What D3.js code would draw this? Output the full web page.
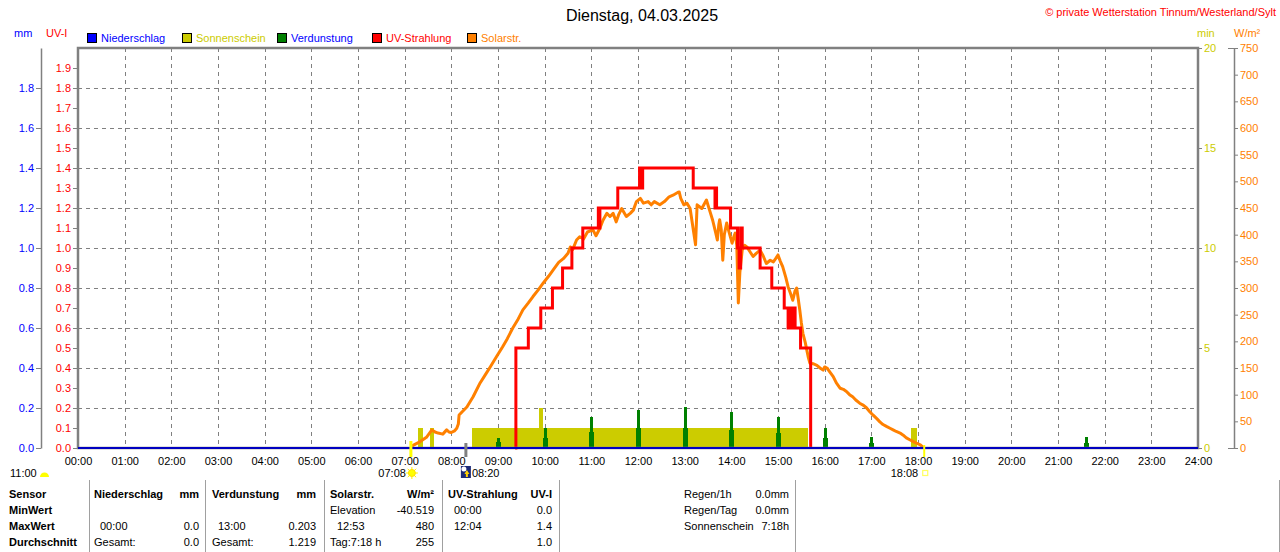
<!DOCTYPE html>
<html><head><meta charset="utf-8">
<script src="https://cdn.jsdelivr.net/npm/d3@7"></script>
<style>
html,body{margin:0;padding:0;background:#fff;}
svg{display:block;font-family:"Liberation Sans",Arial,sans-serif;}
</style></head><body>
<svg id="c" width="1280" height="552"></svg>
<script>
// ---------------- DATA ----------------
const titleText = "Dienstag, 04.03.2025";
const copyrightText = "\u00A9 private Wetterstation Tinnum/Westerland/Sylt";

const xTickLabels = ["00:00","01:00","02:00","03:00","04:00","05:00","06:00","07:00","08:00","09:00","10:00","11:00","12:00","13:00","14:00","15:00","16:00","17:00","18:00","19:00","20:00","21:00","22:00","23:00","24:00"];
const mmTicks  = [0,0.2,0.4,0.6,0.8,1.0,1.2,1.4,1.6,1.8];
const uvTicks  = [0,0.1,0.2,0.3,0.4,0.5,0.6,0.7,0.8,0.9,1.0,1.1,1.2,1.3,1.4,1.5,1.6,1.7,1.8,1.9];
const minTicks = [0,5,10,15,20];
const wTicks   = [0,50,100,150,200,250,300,350,400,450,500,550,600,650,700,750];

// Niederschlag (mm) – zero all day
const precipTimes  = ["00:00","24:00"];
const precipValues = [0,0];

// Sonnenschein (min) segments
const sunFrom = ["07:17","07:33","08:26","09:53","09:58","17:51"];
const sunTo   = ["07:23","07:38","09:53","09:58","15:38","17:59"];
const sunMin  = [1,1,1,2,1,1];

// Verdunstung (mm)
const evapTimes  = ["09:00","10:00","11:00","12:00","13:00","14:00","15:00","16:00","17:00","21:36"];
const evapValues = [0.05,0.10,0.155,0.19,0.203,0.18,0.155,0.10,0.053,0.055];
const evapBase   = [0.03,0.05,0.08,0.10,0.10,0.09,0.075,0.05,0.025,0.025];

// UV-Strahlung (UV-I), step series
const uvTimes  = ["09:22","09:23","09:39","09:55","10:10","10:23","10:35","10:49","11:09","11:10","11:11","11:34","12:02","12:03","12:04","12:05","12:06","13:11","13:39","13:40","13:41","13:59","14:08","14:10","14:12","14:14","14:37","14:52","15:08","15:13","15:14","15:16","15:17","15:19","15:20","15:22","15:29","15:42"];
const uvValues = [0,0.5,0.6,0.7,0.8,0.9,1.0,1.1,1.2,1.1,1.2,1.3,1.4,1.3,1.4,1.3,1.4,1.3,1.2,1.3,1.2,1.1,1.0,0.9,1.1,1.0,0.9,0.8,0.7,0.6,0.7,0.6,0.7,0.6,0.7,0.6,0.5,0];

// Solarstrahlung (W/m²)
const solarTimes = ["07:08","07:12","07:20","07:28","07:35","07:39","07:43","07:49","07:54","07:57","08:00","08:04","08:07","08:09","08:10","08:14","08:20","08:28","08:37","08:44","08:50","08:58","09:06","09:12","09:19","09:26","09:32","09:39","09:45","09:52","09:58","10:05","10:11","10:18","10:24","10:30","10:33","10:36","10:41","10:45","10:50","10:55","11:02","11:06","11:11","11:15","11:20","11:24","11:28","11:32","11:35","11:39","11:45","11:50","11:54","11:58","12:03","12:07","12:13","12:17","12:21","12:28","12:34","12:40","12:45","12:51","12:53","12:55","12:59","13:03","13:07","13:14","13:16","13:22","13:28","13:32","13:36","13:40","13:42","13:44","13:45","13:47","13:49","13:51","13:54","13:57","14:01","14:03","14:05","14:07","14:09","14:11","14:14","14:17","14:20","14:24","14:28","14:32","14:37","14:41","14:45","14:50","14:54","14:57","15:00","15:03","15:06","15:10","15:13","15:16","15:19","15:22","15:24","15:26","15:28","15:30","15:32","15:35","15:37","15:39","15:41","15:45","15:50","15:54","15:58","16:00","16:03","16:07","16:11","16:15","16:20","16:24","16:28","16:32","16:36","16:40","16:45","16:50","16:54","16:58","17:02","17:07","17:11","17:15","17:20","17:24","17:28","17:32","17:37","17:41","17:45","17:50","17:54","17:58","18:03","18:06","18:08"];
const solarValues = [2,6,12,20,34,30,28,26,34,30,29,32,37,45,62,68,77,96,122,138,152,171,190,205,225,242,259,272,284,297,309,322,334,348,355,365,377,372,390,396,392,405,409,398,412,427,440,434,440,424,437,449,434,440,446,462,468,459,462,456,462,456,462,471,474,479,480,468,456,459,449,381,456,449,465,446,427,403,390,420,428,410,352,400,422,405,384,395,403,380,272,330,371,380,377,368,359,365,371,360,346,352,349,355,362,350,340,320,302,290,277,295,300,280,259,235,215,198,184,170,159,158,155,150,146,152,150,142,134,122,112,110,106,100,96,90,84,80,75,68,62,55,49,44,40,37,34,31,28,24,19,15,12,9,6,2,0];

// Markers below the axis
const sunriseTime = "07:08", twilightTime = "08:20", sunsetTime = "18:08", noonLabel = "11:00";

// Legend
const legendNames  = ["Niederschlag","Sonnenschein","Verdunstung","UV-Strahlung","Solarstr."];
const legendColors = ["#0000ff","#cccc00","#008000","#ff0000","#ff8000"];
const legendText   = ["#0000ff","#cccc00","#0000ff","#ff0000","#ff8000"];

// Table
const rowLabels = ["Sensor","MinWert","MaxWert","Durchschnitt"];
const tableCols = [
  {head:["Niederschlag","mm"], rows:[["",""],["00:00","0.0"],["Gesamt:","0.0"]]},
  {head:["Verdunstung","mm"], rows:[["",""],["13:00","0.203"],["Gesamt:","1.219"]]},
  {head:["Solarstr.","W/m\u00B2"], rows:[["Elevation","-40.519"],["12:53","480"],["Tag:7:18 h","255"]]},
  {head:["UV-Strahlung","UV-I"], rows:[["00:00","0.0"],["12:04","1.4"],["","1.0"]]}
];
const summaryLabels = ["Regen/1h","Regen/Tag","Sonnenschein"];
const summaryValues = ["0.0mm","0.0mm","7:18h"];

// ---------------- DRAW ----------------
const svg = d3.select("#c");
const FONT = "'Liberation Sans',Arial,sans-serif";
const L = 78, R = 1198, T = 48, B = 448;
const x    = d3.scaleLinear().domain([0,24]).range([L,R]);
const yMM  = d3.scaleLinear().domain([0,2]).range([B,T]);
const yUV  = d3.scaleLinear().domain([0,2]).range([B,T]);
const yMin = d3.scaleLinear().domain([0,20]).range([B,T]);
const yW   = d3.scaleLinear().domain([0,750]).range([B,T]);
const tp = s => { const [h,m] = s.split(":").map(Number); return h + m/60; };

// grid
const grid = svg.append("g").attr("stroke","#808080").attr("stroke-width",1).attr("stroke-dasharray","4,4").attr("shape-rendering","crispEdges");
grid.selectAll("line.h").data(mmTicks.slice(1)).join("line")
  .attr("x1",L).attr("x2",R).attr("y1",d=>Math.round(yMM(d))+0.5).attr("y2",d=>Math.round(yMM(d))+0.5);
grid.selectAll("line.v").data(xTickLabels.slice(1,-1)).join("line")
  .attr("y1",T).attr("y2",B).attr("x1",d=>Math.round(x(tp(d)))+0.5).attr("x2",d=>Math.round(x(tp(d)))+0.5);

// sunshine bars
svg.append("g").attr("shape-rendering","crispEdges").selectAll("rect").data(sunMin).join("rect")
  .attr("x",(d,i)=>x(tp(sunFrom[i])))
  .attr("width",(d,i)=>x(tp(sunTo[i]))-x(tp(sunFrom[i])))
  .attr("y",d=>yMin(d)).attr("height",d=>B-yMin(d))
  .attr("fill","#cccc00");

// evaporation bars
const ge = svg.append("g").attr("fill","#008000").attr("shape-rendering","crispEdges");
ge.selectAll("rect.b").data(evapBase).join("rect")
  .attr("x",(d,i)=>x(tp(evapTimes[i]))-2).attr("width",5)
  .attr("y",d=>yMM(d)).attr("height",d=>B-yMM(d));
ge.selectAll("rect.s").data(evapValues).join("rect")
  .attr("x",(d,i)=>x(tp(evapTimes[i]))-1).attr("width",3)
  .attr("y",d=>yMM(d)).attr("height",d=>B-yMM(d));

// solar line
const solarLine = d3.line().x((d,i)=>x(tp(solarTimes[i]))).y(d=>yW(d));
svg.append("path").attr("d",solarLine(solarValues))
  .attr("fill","none").attr("stroke","#ff8000").attr("stroke-width",3).attr("stroke-linejoin","round");

// UV step line
const uvLine = d3.line().curve(d3.curveStepAfter).x((d,i)=>x(tp(uvTimes[i]))).y(d=>yUV(d));
svg.append("path").attr("d",uvLine(uvValues))
  .attr("fill","none").attr("stroke","#ff0000").attr("stroke-width",3);

// plot border
svg.append("rect").attr("x",L).attr("y",T).attr("width",R-L).attr("height",B-T)
  .attr("fill","none").attr("stroke","#808080").attr("stroke-width",2.5);

// precipitation line (blue baseline)
const precipLine = d3.line().x((d,i)=>x(tp(precipTimes[i]))).y(d=>yMM(d));
svg.append("path").attr("d",precipLine(precipValues))
  .attr("fill","none").attr("stroke","#0000c0").attr("stroke-width",2);

// axes
function styleAxis(g, color, lineW){
  g.attr("font-family",FONT).attr("font-size",11);
  g.selectAll("text").attr("fill",color);
  g.selectAll("line").attr("stroke","#808080");
  g.select(".domain").attr("stroke","#808080").attr("stroke-width",lineW||1.5);
}
const fmt1 = d3.format(".1f");
const gMM = svg.append("g").attr("transform","translate(41,0)")
  .call(d3.axisLeft(yMM).tickValues(mmTicks).tickFormat(fmt1).tickSize(5).tickSizeOuter(0).tickPadding(2));
styleAxis(gMM,"#0000ff");

const gUV = svg.append("g").attr("transform",`translate(${L},0)`)
  .call(d3.axisLeft(yUV).tickValues(uvTicks).tickFormat(fmt1).tickSize(5).tickSizeOuter(0).tickPadding(2));
styleAxis(gUV,"#ff0000"); gUV.select(".domain").remove();

const gMin = svg.append("g").attr("transform",`translate(${R},0)`)
  .call(d3.axisRight(yMin).tickValues(minTicks).tickSize(4).tickSizeOuter(0).tickPadding(2));
styleAxis(gMin,"#cccc00"); gMin.select(".domain").remove();

const gW = svg.append("g").attr("transform","translate(1234,0)")
  .call(d3.axisRight(yW).tickValues(wTicks).tickSize(4).tickSizeOuter(0).tickPadding(2));
styleAxis(gW,"#ff8000",1.5);
gW.selectAll(".tick").filter(d=>d===0||d===750).append("line").attr("x1",-6).attr("x2",0).attr("stroke","#808080");

const gX = svg.append("g").attr("transform",`translate(0,${B})`)
  .call(d3.axisBottom(x).tickValues(xTickLabels.map(tp)).tickFormat((d,i)=>xTickLabels[i]).tickSize(0).tickPadding(9));
styleAxis(gX,"#000000"); gX.select(".domain").remove();

// axis unit labels
const txt = (xx,yy,s,opt={}) => svg.append("text").attr("x",xx).attr("y",yy).text(s)
  .attr("font-family",FONT).attr("font-size",opt.size||11).attr("fill",opt.fill||"#000")
  .attr("text-anchor",opt.anchor||"start").attr("font-weight",opt.weight||"normal");
txt(14,37,"mm",{fill:"#0000ff"});
txt(46,37,"UV-I",{fill:"#ff0000"});
txt(1197,37,"min",{fill:"#cccc00"});
txt(1234,37,"W/m\u00B2",{fill:"#ff8000"});

// title + copyright
txt(642,21,titleText,{size:16,anchor:"middle"});
txt(1276,16,copyrightText,{fill:"#ff0000",anchor:"end"});

// legend
const legendX = [87,182,277,372,467];
const lg = svg.append("g");
lg.selectAll("rect").data(legendNames).join("rect")
  .attr("x",(d,i)=>legendX[i]+0.5).attr("y",33.5).attr("width",9).attr("height",9)
  .attr("fill",(d,i)=>legendColors[i]).attr("stroke","#000");
lg.selectAll("text").data(legendNames).join("text")
  .attr("x",(d,i)=>legendX[i]+14).attr("y",42).text(d=>d)
  .attr("font-family",FONT).attr("font-size",11).attr("fill",(d,i)=>legendText[i]);

// markers under the time axis
const xs = x(tp(sunriseTime)), xt = x(tp(twilightTime)), xe = x(tp(sunsetTime));
svg.append("line").attr("x1",xs).attr("x2",xs).attr("y1",441).attr("y2",457).attr("stroke","#ffff00").attr("stroke-width",3);
svg.append("line").attr("x1",xt-1).attr("x2",xt-1).attr("y1",443).attr("y2",457).attr("stroke","#808080").attr("stroke-width",3);
svg.append("line").attr("x1",xe).attr("x2",xe).attr("y1",445).attr("y2",457).attr("stroke","#ffff00").attr("stroke-width",2);

txt(xs-5,477,sunriseTime,{anchor:"end"});
const sun = svg.append("g").attr("transform",`translate(${xs+1},473)`);
sun.selectAll("line").data([0,1,2,3,4,5,6,7]).join("line")
  .attr("x1",0).attr("y1",0).attr("x2",d=>6*Math.cos(d*Math.PI/4)).attr("y2",d=>6*Math.sin(d*Math.PI/4))
  .attr("stroke","#ffee00").attr("stroke-width",1);
sun.append("circle").attr("r",3.5).attr("fill","#ffff00").attr("stroke","#ffe000");

const moon = svg.append("g").attr("transform",`translate(${xt-6},466)`);
moon.append("rect").attr("width",10).attr("height",12).attr("fill","#1c2a78");
moon.append("circle").attr("cx",3).attr("cy",3).attr("r",2.5).attr("fill","#ffffff");
moon.append("path").attr("d","M6,4 L8.5,8 L7,8 L7,11 L5,11 L5,8 L3.5,8 Z").attr("fill","#ffd000");
txt(xt+5,477,twilightTime);

txt(xe-6,477,sunsetTime,{anchor:"end"});
svg.append("rect").attr("x",xe-1.5).attr("y",470.5).attr("width",5).attr("height",5).attr("fill","none").attr("stroke","#ffff60").attr("stroke-width",1.2);

txt(10,477,noonLabel);
svg.append("path").attr("d","M40,477 A4.5,4.5 0 0 1 49,477 Z").attr("fill","#ffff00");

// table
const sepX = [89,205,324,442,559,795,1279];
svg.append("g").selectAll("line").data(sepX).join("line")
  .attr("x1",d=>d+0.5).attr("x2",d=>d+0.5).attr("y1",480).attr("y2",552).attr("stroke","#a0a0a0");
const rowY = [498,514,530,546];
rowLabels.forEach((s,i)=>txt(9,rowY[i],s,{weight:"bold"}));
const colL = [94,212,330,448], colR = [199,316,434,552], colL2 = [100,218,337,454];
tableCols.forEach((c,j)=>{
  txt(colL[j],rowY[0],c.head[0],{weight:"bold"});
  txt(colR[j],rowY[0],c.head[1],{weight:"bold",anchor:"end"});
  c.rows.forEach((r,i)=>{
    const lx = (i===1 || (j===3)) ? colL2[j] : colL[j];
    if(r[0]) txt(lx,rowY[i+1],r[0]);
    if(r[1]) txt(colR[j],rowY[i+1],r[1],{anchor:"end"});
  });
});
summaryLabels.forEach((s,i)=>{
  txt(684,rowY[i],s);
  txt(789,rowY[i],summaryValues[i],{anchor:"end"});
});
</script></body></html>
